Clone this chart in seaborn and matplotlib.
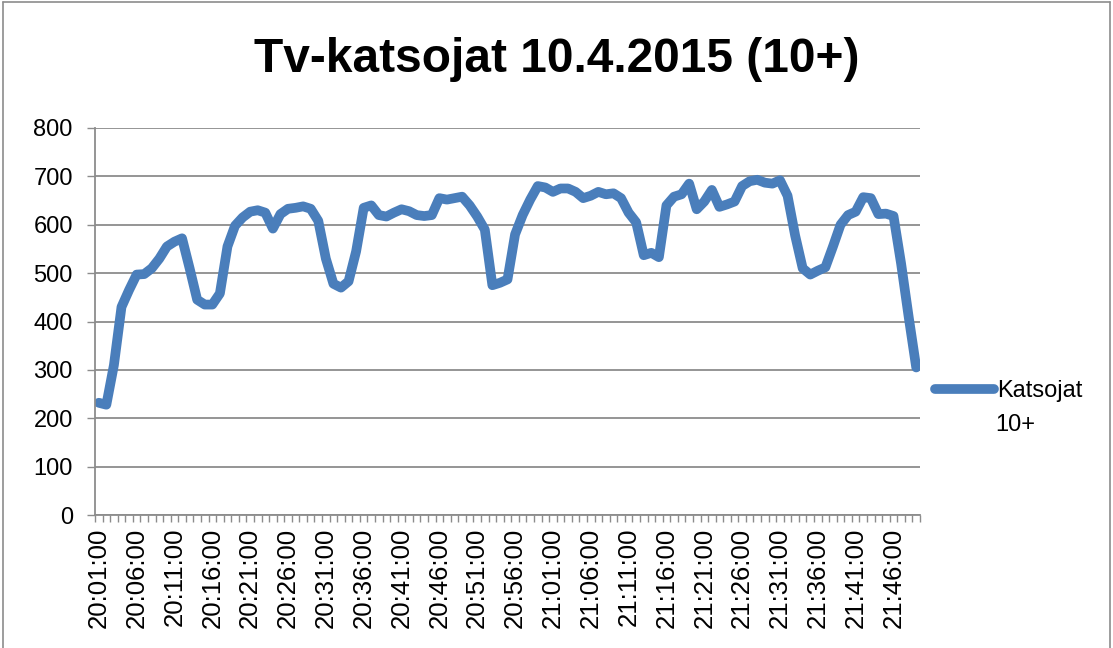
"""Tv-katsojat 10.4.2015 line chart."""

import matplotlib

matplotlib.use("Agg")
import matplotlib.pyplot as plt
from matplotlib.lines import Line2D
import pandas as pd
import seaborn as sns

# Minute-by-minute viewers (thousands), 20:01 .. 21:49
times = pd.date_range("2015-04-10 20:01", "2015-04-10 21:49", freq="1min")
time_labels = [t.strftime("%H:%M:%S") for t in times]
viewers = [
    232, 228, 310, 430, 465, 497, 498, 510, 530, 555,
    565, 572, 510, 445, 435, 435, 458, 555, 598, 615,
    627, 630, 625, 592, 622, 633, 635, 638, 633, 608,
    530, 478, 470, 483, 545, 635, 640, 620, 617, 625,
    632, 628, 620, 618, 620, 655, 652, 655, 658, 640,
    617, 590, 475, 480, 487, 580, 620, 652, 680, 677,
    668, 675, 675, 668, 655, 660, 668, 663, 665, 655,
    625, 605, 537, 542, 533, 640, 658, 663, 685, 632,
    648, 672, 637, 642, 648, 680, 690, 693, 687, 685,
    692, 660, 578, 510, 497, 505, 512, 555, 600, 620,
    627, 657, 655, 622, 623, 618, 520, 410, 305,
]
series_name = ["Katsojat", "10+"]
title = "Tv-katsojat 10.4.2015 (10+)"

df = pd.DataFrame({"pos": range(len(viewers)), "viewers": viewers})

sns.set_style("white")
plt.rcParams["font.family"] = ["Liberation Sans", "DejaVu Sans"]
plt.rcParams["text.color"] = "black"
plt.rcParams["xtick.color"] = "black"
plt.rcParams["ytick.color"] = "black"

fig = plt.figure(figsize=(11.13, 6.48), dpi=100)
ax = fig.add_axes([95 / 1113, 1 - 515 / 648, 825 / 1113, 387 / 648])

sns.lineplot(
    data=df, x="pos", y="viewers", ax=ax, color="#4A7EBB",
    linewidth=7, label=series_name[0], solid_joinstyle="round",
    solid_capstyle="round",
)

ax.set_ylim(0, 800)
ax.set_xlim(-0.5, len(viewers) - 0.5)
ax.set_yticks(range(0, 801, 100))
ax.yaxis.grid(True, color="#8c8c8c", linewidth=1.3)
ax.set_axisbelow(True)

# category ticks between minutes, labels every 5 minutes
ax.set_xticks([i - 0.5 for i in range(len(viewers) + 1)], minor=True)
ax.set_xticks(range(0, len(viewers), 5))
ax.set_xticklabels(time_labels[::5], rotation=90)
ax.tick_params(axis="x", which="major", length=0, pad=9, labelsize=18.5)
ax.tick_params(axis="x", which="minor", length=5, width=1,
               color="#8c8c8c", direction="out", bottom=True)
ax.tick_params(axis="y", which="major", length=6, width=1,
               color="#8c8c8c", direction="out", left=True, labelsize=17,
               pad=10)

for side in ["top", "right"]:
    ax.spines[side].set_visible(False)
for side in ["left", "bottom"]:
    ax.spines[side].set_color("#8c8c8c")
    ax.spines[side].set_linewidth(1.3)

ax.set_xlabel("")
ax.set_ylabel("")

ax.legend(
    loc="center left", bbox_to_anchor=(1.0, 0.32), frameon=False,
    fontsize=17, handlelength=2.5, handletextpad=0.1, borderaxespad=0.25,
)
# second line of the series name, Excel wraps it under the first
fig.text(995 / 1113, 1 - 425 / 648, series_name[1], ha="left",
         va="center", fontsize=17)

fig.text(0.5, 1 - 60 / 648, title, ha="center", va="center",
         fontsize=34.5, fontweight="bold")

# chart-area border
for xs, ys in [([0.003, 0.003], [0, 0.997]),
               ([0.003, 0.997], [0.997, 0.997]),
               ([0.997, 0.997], [0, 0.997])]:
    fig.add_artist(Line2D(xs, ys, color="#8c8c8c", linewidth=1.2,
                          transform=fig.transFigure))

fig.savefig("out.png", dpi=100)
